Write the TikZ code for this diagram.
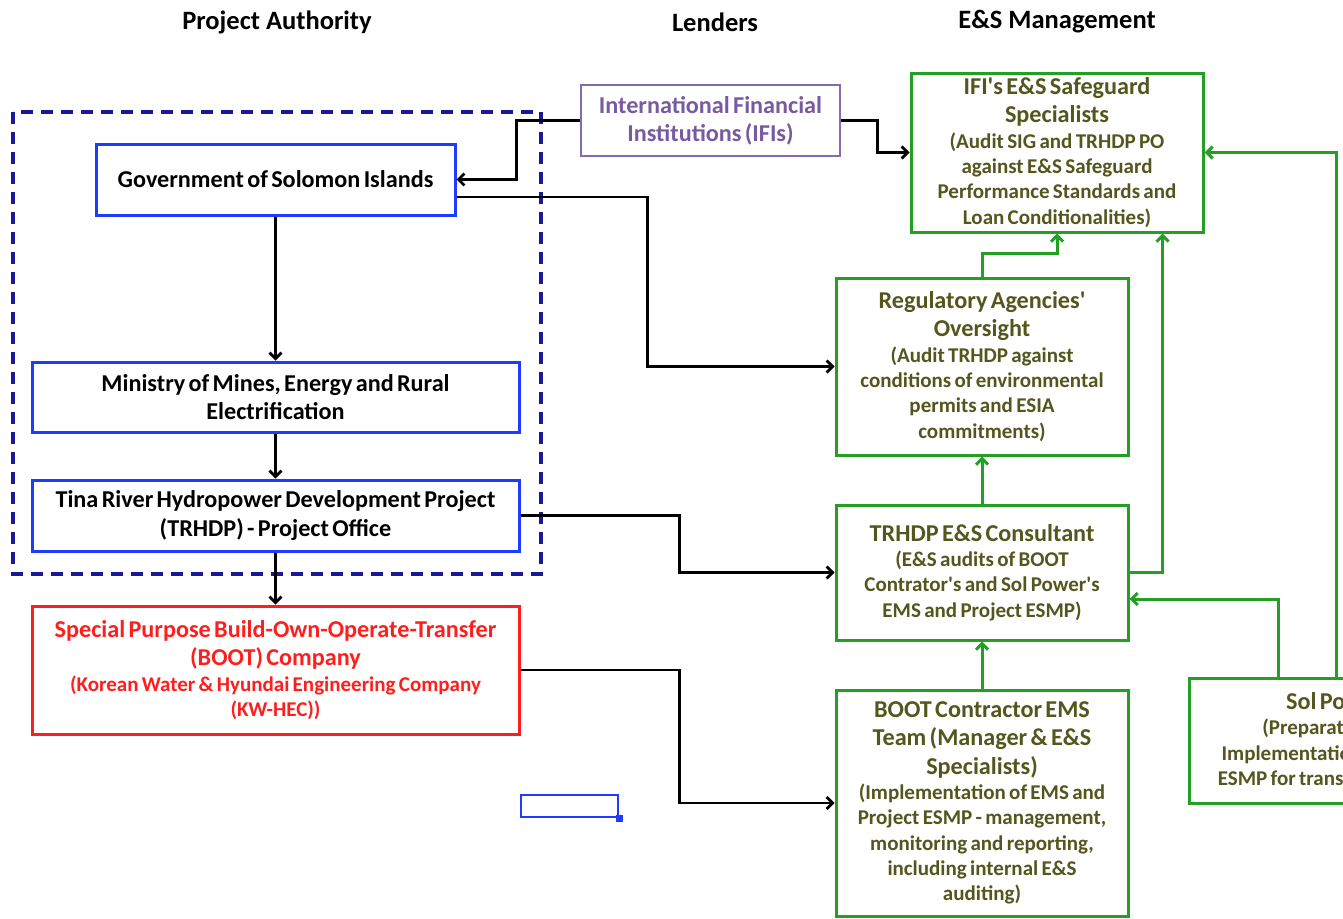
\documentclass[tikz,border=0pt]{standalone}
\usepackage{fontspec}
\setmainfont{Carlito}
\usetikzlibrary{arrows.meta,calc}
\definecolor{bbl}{RGB}{30,60,255}
\definecolor{dbl}{RGB}{25,25,150}
\definecolor{pur}{RGB}{135,105,175}
\definecolor{ptx}{RGB}{120,90,160}
\definecolor{rd}{RGB}{255,30,30}
\definecolor{gr}{RGB}{35,160,35}
\definecolor{gtx}{RGB}{85,85,30}
\newcommand\hfnt{\fontsize{24.2}{28.2}\selectfont\bfseries}
\newcommand\sfnt{\fontsize{21}{25.3}\selectfont\bfseries}
\newcommand\tfnt{\fontsize{26.5}{30}\selectfont\bfseries}
\newcommand\apos{\textquotesingle}
\begin{document}
\begin{tikzpicture}[x=1pt,y=-1pt,
  box/.style={draw, line width=3pt, align=center, inner xsep=2pt, inner ysep=0pt, fill=white},
  bluebox/.style={box, draw=bbl, text=black},
  redbox/.style={box, draw=rd, text=rd},
  purbox/.style={box, draw=pur, line width=2.4pt, text=ptx},
  grbox/.style={box, draw=gr, text=gtx},
  title/.style={font=\tfnt, text=black, anchor=center},
  arr/.style={line width=2.8pt, draw=black, -{Straight Barb[length=6pt,width=12pt]}},
  garr/.style={line width=3pt, draw=gr, -{Straight Barb[length=6pt,width=12pt]}},
]
\useasboundingbox (0,0) rectangle (1343,918);
\clip (0,0) rectangle (1343,918);
\fill[white] (0,0) rectangle (1343,918);

% titles
\node[title] (t1) at (277,22) {Project Authority};
\node[title] (t2) at (715,22) {Lenders};
\node[title] (t3) at (1057,22) {E\&S Management};

% dashed group
\draw[dbl, line width=3.4pt, dash pattern=on 12pt off 8pt] (13,112) rectangle (541,574);

% left column
\node[bluebox, text width=355pt, minimum height=71pt] (gov) at (275.5,179.5) {\hfnt Government of Solomon Islands\par};
\node[bluebox, text width=483pt, minimum height=70pt] (min) at (275.5,397) {\hfnt Ministry of Mines, Energy and Rural\\Electrification\par};
\node[bluebox, text width=483pt, minimum height=71pt] (po) at (275.5,515.5) {\hfnt Tina River Hydropower Development Project\\(TRHDP) - Project Office\par};
\node[redbox, text width=483pt, minimum height=128pt] (boot) at (275.5,670) {{\hfnt Special Purpose Build-Own-Operate-Transfer\\(BOOT) Company\par}{\sfnt (Korean Water \& Hyundai Engineering Company\\(KW-HEC))\par}};

% lenders
\node[purbox, text width=255pt, minimum height=71pt] (ifis) at (710.5,120.5) {\hfnt International Financial\\Institutions (IFIs)\par};

% E&S management
\node[grbox, text width=288pt, minimum height=159pt] (ifies) at (1057,152.5) {{\hfnt IFI\apos s E\&S Safeguard\\Specialists\par}{\sfnt (Audit SIG and TRHDP PO\\against E\&S Safeguard\\Performance Standards and\\Loan Conditionalities)\par}};
\node[grbox, text width=288pt, minimum height=177pt] (reg) at (982,366.5) {{\hfnt Regulatory Agencies\apos\\Oversight\par}{\sfnt (Audit TRHDP against\\conditions of environmental\\permits and ESIA\\commitments)\par}};
\node[grbox, text width=288pt, minimum height=135pt] (cons) at (982,572.5) {{\hfnt TRHDP E\&S Consultant\par}{\sfnt (E\&S audits of BOOT\\Contrator\apos s and Sol Power\apos s\\EMS and Project ESMP)\par}};
\node[grbox, text width=288pt, minimum height=226pt] (ems) at (982,803) {{\hfnt BOOT Contractor EMS\\Team (Manager \& E\&S\\Specialists)\par}{\sfnt (Implementation of EMS and\\Project ESMP - management,\\monitoring and reporting,\\including internal E\&S\\auditing)\par}};
\node[grbox, text width=288pt, minimum height=125pt] (sol) at (1335,740.5) {{\hfnt Sol Power\par}{\sfnt (Preparation and\\Implementation of Project\\ESMP for transmission line)\par}};

% stray selection box
\node[draw=bbl, line width=2.4pt, minimum width=97pt, minimum height=22pt, inner sep=0pt] (sel) at (569.5,806) {};
\fill[bbl] ($(sel.south east)+(-3.5,-3.5)$) rectangle ($(sel.south east)+(3.5,3.5)$);

% black connectors
\draw[arr] (ifis.west) -- ++(-63,0) |- (gov.east);
\draw[arr] (ifis.east) -- ++(36,0) |- (ifies.west);
\draw[arr] (gov.south) -- (min.north);
\draw[arr] ($(gov.east)+(0,17.5)$) -- ++(191,0) |- (reg.west);
\draw[arr] (min.south) -- (po.north);
\draw[arr] (po.south) -- (boot.north);
\draw[arr] (po.east) -- ++(159,0) |- (cons.west);
\draw[arr] (boot.east) -- ++(159,0) |- (ems.west);

% green connectors
\draw[garr] (reg.north) -- ++(0,-23) -| (ifies.south);
\draw[garr] (cons.north) -- (reg.south);
\draw[garr] (cons.east) -| ($(ifies.south east)+(-42,0)$);
\draw[garr] (ems.north) -- (cons.south);
\draw[garr] ($(sol.north)+(-57,0)$) |- ($(cons.east)+(0,26.5)$);
\draw[garr] ($(sol.north)+(1,0)$) |- (ifies.east);
\end{tikzpicture}
\end{document}
